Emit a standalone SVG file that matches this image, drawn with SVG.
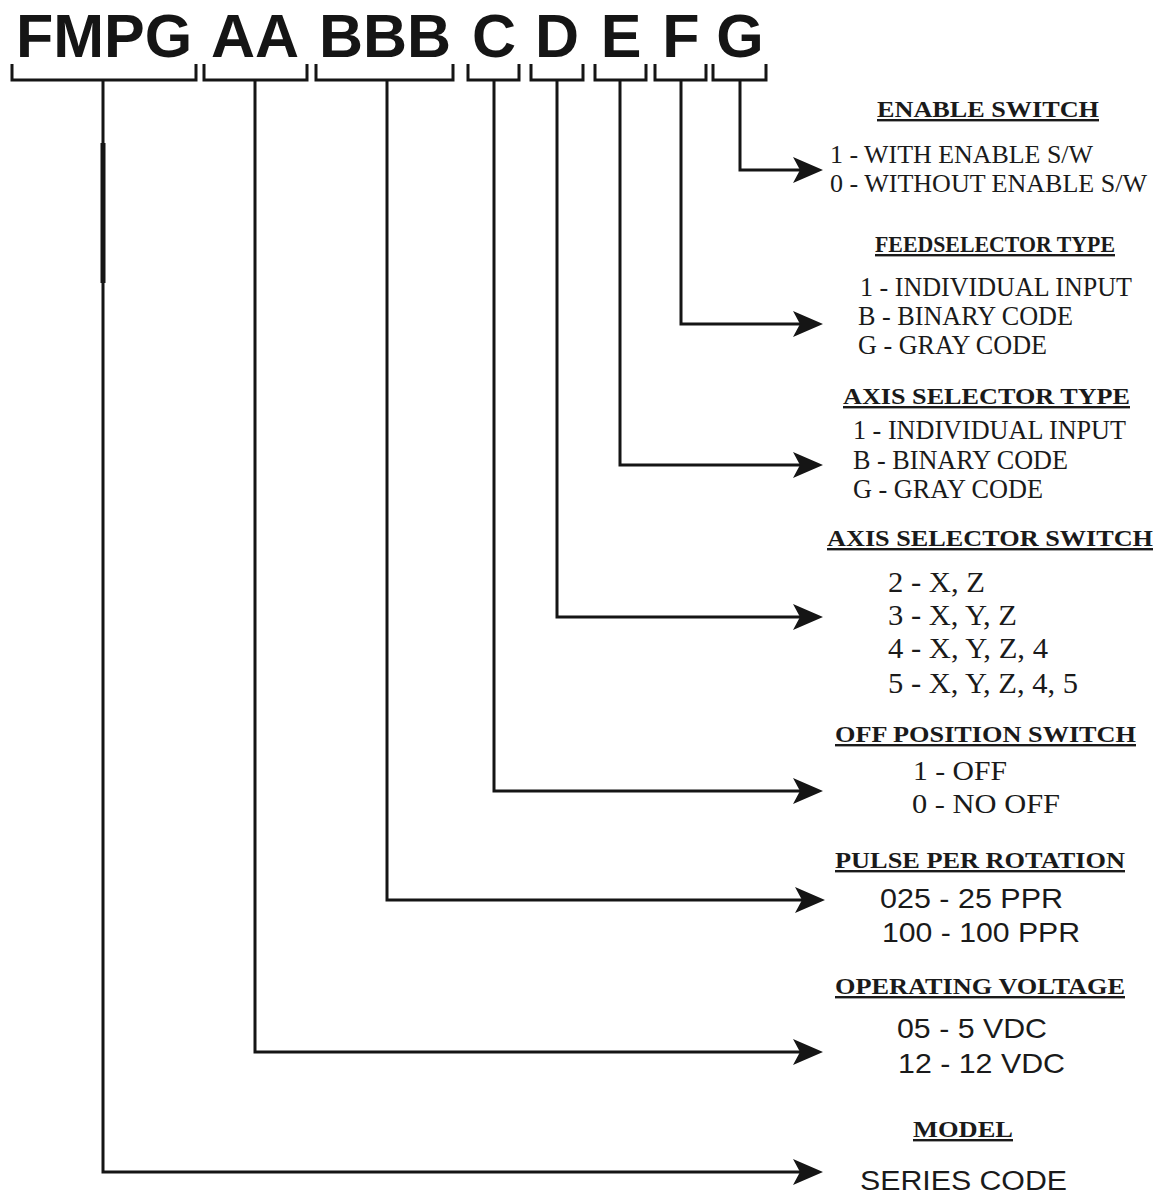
<svg xmlns="http://www.w3.org/2000/svg" width="1162" height="1194" viewBox="0 0 1162 1194">
<style>
.code{font-family:"Liberation Sans",Arial,sans-serif;font-weight:bold;font-size:61px;fill:#151515;text-anchor:middle}
.br{fill:none;stroke:#151515;stroke-width:3}
.cn{fill:none;stroke:#151515;stroke-width:3}
.hd{font-family:"Liberation Serif","Times New Roman",serif;font-weight:bold;font-size:24px;fill:#1a1a1a;text-decoration:underline}
.tx{font-family:"Liberation Serif","Times New Roman",serif;fill:#1a1a1a}
.ax{font-family:"Liberation Sans",Arial,sans-serif;fill:#1a1a1a}
</style>
<defs>
<marker id="arr" viewBox="0 -13 30 26" refX="7" refY="0" markerWidth="30" markerHeight="26" markerUnits="userSpaceOnUse" orient="auto">
<path d="M0,-13 L30,0 L0,13 L7,0 Z" fill="#151515"/>
</marker>
</defs>
<rect width="1162" height="1194" fill="#ffffff"/>

<g id="code-fmpg"><text class="code" x="104" y="57">FMPG</text><path class="br" d="M12,64 V80 H196 V64"/></g>
<g id="code-aa"><text class="code" x="255" y="57">AA</text><path class="br" d="M204,64 V80 H307 V64"/></g>
<g id="code-bbb"><text class="code" x="385" y="57">BBB</text><path class="br" d="M316,64 V80 H453 V64"/></g>
<g id="code-c"><text class="code" x="494" y="57">C</text><path class="br" d="M468,64 V80 H519 V64"/></g>
<g id="code-d"><text class="code" x="557" y="57">D</text><path class="br" d="M531,64 V80 H583 V64"/></g>
<g id="code-e"><text class="code" x="621" y="57">E</text><path class="br" d="M595,64 V80 H646 V64"/></g>
<g id="code-f"><text class="code" x="681" y="57">F</text><path class="br" d="M655,64 V80 H706 V64"/></g>
<g id="code-g"><text class="code" x="740" y="57">G</text><path class="br" d="M713,64 V80 H766 V64"/></g>

<g id="connectors">
<path class="cn" d="M740,80 V170 H800" marker-end="url(#arr)"/>
<path class="cn" d="M681,80 V324 H800" marker-end="url(#arr)"/>
<path class="cn" d="M620,80 V465 H800" marker-end="url(#arr)"/>
<path class="cn" d="M557,80 V617 H800" marker-end="url(#arr)"/>
<path class="cn" d="M494,80 V791 H800" marker-end="url(#arr)"/>
<path class="cn" d="M387,80 V900 H802" marker-end="url(#arr)"/>
<path class="cn" d="M255,80 V1052 H800" marker-end="url(#arr)"/>
<path class="cn" d="M103,80 V1172 H800" marker-end="url(#arr)"/>
<line x1="103" y1="143" x2="103" y2="283" stroke="#151515" stroke-width="5"/>
</g>

<g id="enable-switch">
<text class="hd" x="877" y="117" textLength="222" lengthAdjust="spacingAndGlyphs">ENABLE SWITCH</text>
<text class="tx" font-size="26" x="830" y="163" textLength="263" lengthAdjust="spacingAndGlyphs">1 - WITH ENABLE S/W</text>
<text class="tx" font-size="26" x="830" y="192" textLength="317" lengthAdjust="spacingAndGlyphs">0 - WITHOUT ENABLE S/W</text>
</g>

<g id="feedselector-type">
<text class="hd" x="875" y="252" textLength="240" lengthAdjust="spacingAndGlyphs">FEEDSELECTOR TYPE</text>
<text class="tx" font-size="27" x="860" y="296" textLength="272" lengthAdjust="spacingAndGlyphs">1 - INDIVIDUAL INPUT</text>
<text class="tx" font-size="27" x="858" y="325" textLength="215" lengthAdjust="spacingAndGlyphs">B - BINARY CODE</text>
<text class="tx" font-size="27" x="858" y="354" textLength="189" lengthAdjust="spacingAndGlyphs">G - GRAY CODE</text>
</g>

<g id="axis-selector-type">
<text class="hd" x="843" y="404" textLength="287" lengthAdjust="spacingAndGlyphs">AXIS SELECTOR TYPE</text>
<text class="tx" font-size="27" x="853" y="439" textLength="273" lengthAdjust="spacingAndGlyphs">1 - INDIVIDUAL INPUT</text>
<text class="tx" font-size="27" x="853" y="469" textLength="215" lengthAdjust="spacingAndGlyphs">B - BINARY CODE</text>
<text class="tx" font-size="27" x="853" y="498" textLength="190" lengthAdjust="spacingAndGlyphs">G - GRAY CODE</text>
</g>

<g id="axis-selector-switch">
<text class="hd" x="827" y="546" textLength="326" lengthAdjust="spacingAndGlyphs">AXIS SELECTOR SWITCH</text>
<text class="tx" font-size="29" x="888" y="592" textLength="97" lengthAdjust="spacingAndGlyphs">2 - X, Z</text>
<text class="tx" font-size="29" x="888" y="625" textLength="129" lengthAdjust="spacingAndGlyphs">3 - X, Y, Z</text>
<text class="tx" font-size="29" x="888" y="658" textLength="160" lengthAdjust="spacingAndGlyphs">4 - X, Y, Z, 4</text>
<text class="tx" font-size="29" x="888" y="693" textLength="190" lengthAdjust="spacingAndGlyphs">5 - X, Y, Z, 4, 5</text>
</g>

<g id="off-position-switch">
<text class="hd" x="835" y="742" textLength="301" lengthAdjust="spacingAndGlyphs">OFF POSITION SWITCH</text>
<text class="tx" font-size="27" x="913" y="780" textLength="94" lengthAdjust="spacingAndGlyphs">1 - OFF</text>
<text class="tx" font-size="27" x="912" y="813" textLength="148" lengthAdjust="spacingAndGlyphs">0 - NO OFF</text>
</g>

<g id="pulse-per-rotation">
<text class="hd" x="835" y="868" textLength="290" lengthAdjust="spacingAndGlyphs">PULSE PER ROTATION</text>
<text class="ax" font-size="28" x="880" y="908" textLength="183" lengthAdjust="spacingAndGlyphs">025 - 25 PPR</text>
<text class="ax" font-size="28" x="882" y="942" textLength="198" lengthAdjust="spacingAndGlyphs">100 - 100 PPR</text>
</g>

<g id="operating-voltage">
<text class="hd" x="835" y="994" textLength="290" lengthAdjust="spacingAndGlyphs">OPERATING VOLTAGE</text>
<text class="ax" font-size="28" x="897" y="1038" textLength="150" lengthAdjust="spacingAndGlyphs">05 - 5 VDC</text>
<text class="ax" font-size="28" x="898" y="1073" textLength="167" lengthAdjust="spacingAndGlyphs">12 - 12 VDC</text>
</g>

<g id="model">
<text class="hd" x="913" y="1137" textLength="100" lengthAdjust="spacingAndGlyphs">MODEL</text>
<text class="ax" font-size="27" x="860" y="1190" textLength="207" lengthAdjust="spacingAndGlyphs">SERIES CODE</text>
</g>
</svg>
